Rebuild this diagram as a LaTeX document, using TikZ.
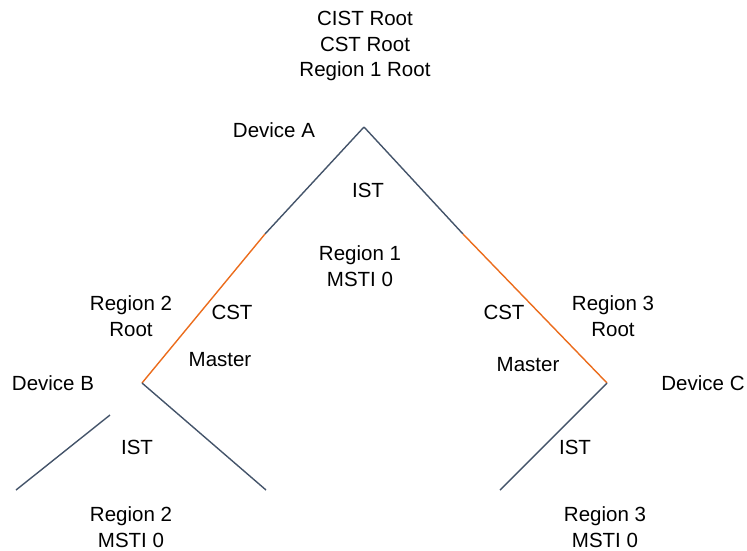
\documentclass[tikz,border=0pt]{standalone}
\usepackage{fontspec}
\setmainfont{Liberation Sans}
\usetikzlibrary{positioning}
\definecolor{istcol}{RGB}{68,84,106}
\definecolor{cstcol}{RGB}{235,108,28}

\begin{document}
\begin{tikzpicture}[
  x=1pt, y=-1pt,
  lbl/.style={align=center, font=\fontsize{20.5}{25.5}\selectfont, inner sep=0pt},
  ist/.style={draw=istcol, line width=1.4pt},
  cst/.style={draw=cstcol, line width=1.4pt}
]
\useasboundingbox (0,0) rectangle (747,550);

% bridges and link points
\coordinate (devA) at (364,127);
\coordinate (devB) at (142,383);
\coordinate (devC) at (607,383);
\coordinate (ab) at (265,234);
\coordinate (ac) at (463,234);
\coordinate (bleaf) at (266,490);
\coordinate (cleaf) at (500,490);
\coordinate (r2top) at (110,415);
\coordinate (r2bot) at (16,490);

% links
\draw[ist] (devA) -- (ab);
\draw[cst] (ab) -- (devB);
\draw[ist] (devA) -- (ac);
\draw[cst] (ac) -- (devC);
\draw[ist] (devB) -- (bleaf);
\draw[ist] (devC) -- (cleaf);
\draw[ist] (r2top) -- (r2bot);

% labels
\node[lbl] (rootA) at (365,46) {CIST Root\\CST Root\\Region 1 Root};
\node[lbl] (nameA) at (274,130) {Device A};
\node[lbl] (istA) at (368,190) {IST};
\node[lbl] (reg1) at (360,266) {Region 1\\MSTI 0};
\node[lbl] (rootB) at (131,316) {Region 2\\Root};
\node[lbl] (cstB) at (232,312) {CST};
\node[lbl] (mstB) at (220,360) {Master};
\node[lbl] (cstC) at (504,312) {CST};
\node[lbl] (mstC) at (528,365) {Master};
\node[lbl] (rootC) at (613,316) {Region 3\\Root};
\node[lbl] (nameB) at (53,383) {Device B};
\node[lbl] (nameC) at (703,383) {Device C};
\node[lbl] (istB) at (137,447) {IST};
\node[lbl] (istC) at (575,447) {IST};
\node[lbl] (reg2) at (131,527) {Region 2\\MSTI 0};
\node[lbl] (reg3) at (605,527) {Region 3\\MSTI 0};
\end{tikzpicture}
\end{document}
